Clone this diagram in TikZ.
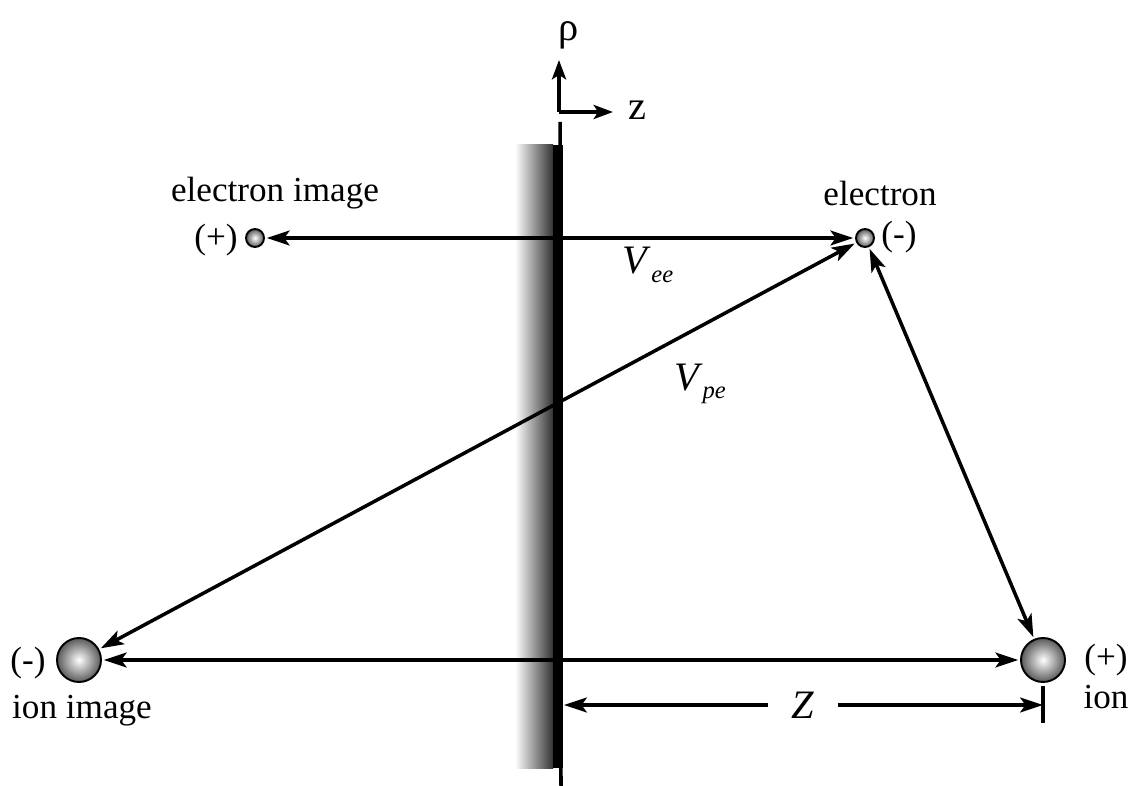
\documentclass[tikz,border=0pt]{standalone}
\usepackage{fontspec}
\setmainfont{Liberation Serif}
\usetikzlibrary{positioning, arrows.meta}
\newcommand{\pot}[1]{\textit{V}\raisebox{-0.45ex}{\fontsize{14}{14}\selectfont\textit{#1}}}

\begin{document}
\begin{tikzpicture}[x=0.02cm, y=-0.02cm,
    ball/.style={circle, draw=black, line width=1.1pt, inner sep=0pt, inner color=white, outer color=gray!70!black},
    smallball/.style={ball, minimum size=0.36cm},
    bigball/.style={ball, minimum size=0.88cm},
    lbl/.style={font=\fontsize{20}{24}\selectfont, inner sep=0pt},
    biglbl/.style={font=\fontsize{23}{26}\selectfont, inner sep=0pt},
    tip/.style={-{Stealth[length=13pt, width=8.5pt, inset=3pt]}},
    link/.style={{Stealth[length=13pt, width=8.5pt, inset=3pt]}-{Stealth[length=13pt, width=8.5pt, inset=3pt]}, line width=2pt, shorten <=1pt, shorten >=1pt},
    axis/.style={-{Stealth[length=11pt, width=8pt, inset=2.5pt]}, line width=2pt}]
    \useasboundingbox (0,0) rectangle (1132,786);

    % Wall
    \shade[left color=white, right color=black!80] (515,145) rectangle (553,768);
    \fill[black] (553,145) rectangle (563,768);
    \coordinate (walltop) at (560,122);
    \coordinate (wallbot) at (561,786);
    \draw[line width=2pt] (walltop) -- (wallbot);

    % Axes
    \coordinate (orig) at (559,112);
    \coordinate (rhotip) at (559,60);
    \coordinate (ztip) at (613,112);
    \draw[axis] (orig) -- (rhotip);
    \draw[axis] (orig) -- (ztip);
    \node[biglbl] (rho) at (569,35) {ρ};
    \node[biglbl] (zax) at (637,110) {z};

    % Particles
    \node[smallball] (eimg) at (255,238) {};
    \node[smallball] (elec) at (865,238) {};
    \node[bigball] (iimg) at (79,660) {};
    \node[bigball] (ion) at (1043,660) {};

    \node[lbl] (eimglab) at (275,193) {electron image};
    \node[lbl] (eimgq) at (216,240) {(+)};
    \node[lbl] (eleclab) at (880,193) {electron};
    \node[lbl] (elecq) at (899,237) {(-)};
    \node[lbl] (iimgq) at (28,663) {(-)};
    \node[lbl] (iimglab) at (82,711) {ion image};
    \node[lbl] (ionq) at (1106,660) {(+)};
    \node[lbl] (ionlab) at (1106,697) {ion};

    % Interactions
    \draw[link] (eimg) -- (elec);
    \draw[link] (elec) -- (iimg);
    \draw[link] (elec) -- (ion);
    \draw[link] (iimg) -- (ion);
    \node[biglbl] (vee) at (648,265) {\pot{ee}};
    \node[biglbl] (vpe) at (700,384) {\pot{pe}};

    % Distance Z
    \node[biglbl, inner xsep=13pt] (zdist) at (803,705) {\textit{Z}};
    \coordinate (zleft) at (564,705);
    \coordinate (zright) at (1043,705);
    \coordinate (ticktop) at (1043,686);
    \coordinate (tickbot) at (1043,723);
    \draw[tip, line width=2pt] (zdist) -- (zleft);
    \draw[tip, line width=2pt] (zdist) -- (zright);
    \draw[line width=2pt] (ticktop) -- (tickbot);
\end{tikzpicture}
\end{document}
